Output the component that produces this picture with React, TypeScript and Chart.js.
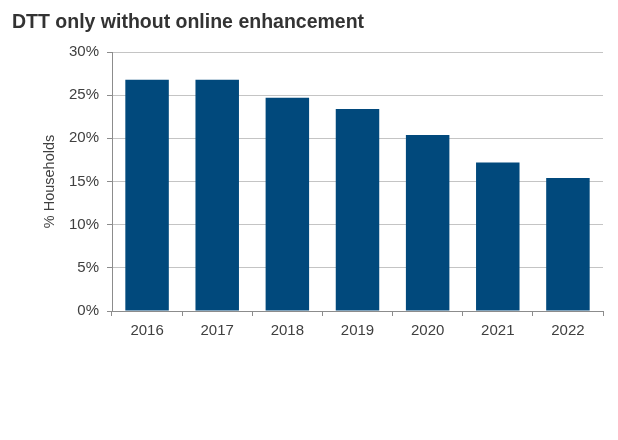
import React, { useEffect, useRef } from "react";
import { Chart, registerables } from "chart.js";

Chart.register(...registerables);

const titleText = "DTT only without online enhancement";
const yAxisTitle = "% Households";
const categories = ["2016", "2017", "2018", "2019", "2020", "2021", "2022"];
const values = [26.8, 26.8, 24.7, 23.4, 20.4, 17.2, 15.4];
const yMin = 0;
const yMax = 30;
const yStep = 5;

const FONT = "'Liberation Sans', Arial, sans-serif";

export default function App() {
  const ref = useRef<HTMLCanvasElement | null>(null);

  useEffect(() => {
    if (!ref.current) return;
    const chart = new Chart(ref.current, {
      type: "bar",
      data: {
        labels: categories,
        datasets: [
          {
            data: values,
            backgroundColor: "#01497c",
            borderWidth: 0,
            categoryPercentage: 1,
            barPercentage: 0.62,
          },
        ],
      },
      options: {
        responsive: false,
        animation: false,
        layout: { padding: { left: 12, right: 15, top: 0, bottom: 0 } },
        plugins: {
          legend: { display: false },
          tooltip: { enabled: false },
          title: {
            display: true,
            text: titleText,
            align: "start",
            color: "#333333",
            font: { family: FONT, size: 19.5, weight: "bold" },
            padding: { top: 11, bottom: 17.6 },
          },
        },
        scales: {
          x: {
            afterFit: (s: any) => {
              s.height = 129;
            },
            grid: {
              display: true,
              drawOnChartArea: false,
              drawTicks: true,
              tickLength: 5,
              tickColor: "#8c8c8c",
              offset: true,
            },
            border: { display: true, color: "#8c8c8c" },
            ticks: {
              color: "#404040",
              font: { family: FONT, size: 15 },
              padding: 6,
              maxRotation: 0,
            },
          },
          y: {
            min: yMin,
            max: yMax,
            afterFit: (s: any) => {
              s.width = 100;
            },
            grid: {
              color: "#c4c4c4",
              drawTicks: true,
              tickLength: 5,
              tickColor: "#8c8c8c",
            },
            border: { display: true, color: "#8c8c8c" },
            ticks: {
              stepSize: yStep,
              color: "#404040",
              font: { family: FONT, size: 15 },
              padding: 8,
              callback: (v: any) => v + "%",
            },
            title: {
              display: true,
              text: yAxisTitle,
              color: "#404040",
              font: { family: FONT, size: 14.5 },
              padding: { top: 29, bottom: 0 },
            },
          },
        },
      },
    });
    return () => chart.destroy();
  }, []);

  return (
    <div style={{ position: "absolute", left: 0, top: 0, width: 618, height: 440 }}>
      <canvas ref={ref} width={618} height={440} />
    </div>
  );
}
